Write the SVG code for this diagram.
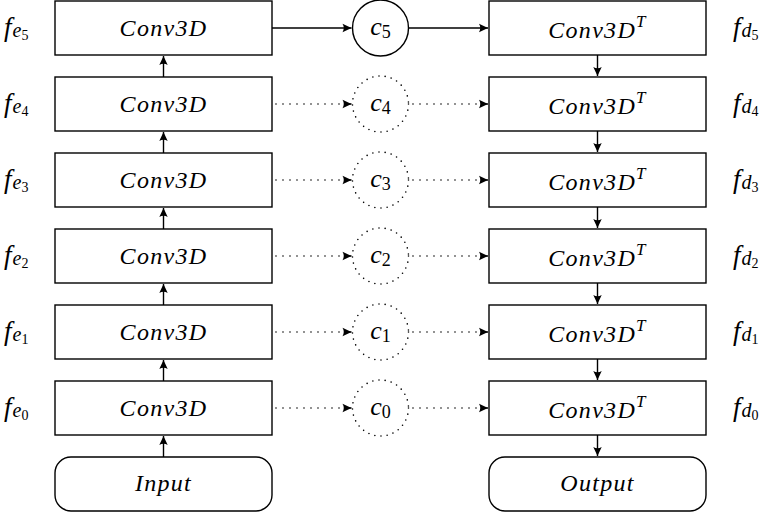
<svg xmlns="http://www.w3.org/2000/svg" width="765" height="514" viewBox="0 0 765 514" font-family="Liberation Serif, serif">
<style>
.box{fill:#fff;stroke:#000;stroke-width:1.4}
.circ{fill:#fff;stroke:#000;stroke-width:1.4}
.dcirc{fill:none;stroke:#000;stroke-width:1.6;stroke-dasharray:0 6.2;stroke-linecap:round}
.ln{fill:none;stroke:#000;stroke-width:1.4}
.dl{fill:none;stroke:#000;stroke-width:1.6;stroke-dasharray:0 7;stroke-linecap:round}
.t{font-style:italic;font-size:24px;letter-spacing:1.3px;text-anchor:middle}
.lab{font-style:italic;font-size:27px}
.sub{font-size:20px}
.sub2{font-size:14px;font-style:normal}
.ct{font-style:italic;font-size:26px;text-anchor:middle}
.cs{font-size:18px;font-style:normal}
</style>
<defs>
<marker id="ah" markerUnits="userSpaceOnUse" markerWidth="12" markerHeight="12" viewBox="-10 -6 12 12" refX="0" refY="0" orient="auto">
<path d="M0,0 L-9,-4.2 Q-6.5,0 -9,4.2 Z" fill="#000"/>
</marker>
</defs>
<g id="connectors">
<path class="ln" d="M163.5,457 V436" marker-end="url(#ah)"/>
<path class="ln" d="M163.5,381 V360" marker-end="url(#ah)"/>
<path class="ln" d="M163.5,305 V284" marker-end="url(#ah)"/>
<path class="ln" d="M163.5,229 V208" marker-end="url(#ah)"/>
<path class="ln" d="M163.5,153 V132" marker-end="url(#ah)"/>
<path class="ln" d="M163.5,77 V56" marker-end="url(#ah)"/>
<path class="ln" d="M597.5,55 V76" marker-end="url(#ah)"/>
<path class="ln" d="M597.5,131 V152" marker-end="url(#ah)"/>
<path class="ln" d="M597.5,207 V228" marker-end="url(#ah)"/>
<path class="ln" d="M597.5,283 V304" marker-end="url(#ah)"/>
<path class="ln" d="M597.5,359 V380" marker-end="url(#ah)"/>
<path class="ln" d="M597.5,435 V456" marker-end="url(#ah)"/>
<path class="ln" d="M272,28 H351.5" marker-end="url(#ah)"/>
<path class="ln" d="M409,28 H488" marker-end="url(#ah)"/>
<path class="dl" d="M276,104 H345"/><path class="ln" d="M348,104 H351.5" marker-end="url(#ah)"/>
<path class="dl" d="M413,104 H482"/><path class="ln" d="M485,104 H488" marker-end="url(#ah)"/>
<path class="dl" d="M276,180 H345"/><path class="ln" d="M348,180 H351.5" marker-end="url(#ah)"/>
<path class="dl" d="M413,180 H482"/><path class="ln" d="M485,180 H488" marker-end="url(#ah)"/>
<path class="dl" d="M276,256 H345"/><path class="ln" d="M348,256 H351.5" marker-end="url(#ah)"/>
<path class="dl" d="M413,256 H482"/><path class="ln" d="M485,256 H488" marker-end="url(#ah)"/>
<path class="dl" d="M276,332 H345"/><path class="ln" d="M348,332 H351.5" marker-end="url(#ah)"/>
<path class="dl" d="M413,332 H482"/><path class="ln" d="M485,332 H488" marker-end="url(#ah)"/>
<path class="dl" d="M276,408 H345"/><path class="ln" d="M348,408 H351.5" marker-end="url(#ah)"/>
<path class="dl" d="M413,408 H482"/><path class="ln" d="M485,408 H488" marker-end="url(#ah)"/>
</g>
<g id="enc5"><rect class="box" x="55" y="1" width="217" height="54"/><text class="t" x="163.5" y="36">Conv3D</text></g>
<g id="enc4"><rect class="box" x="55" y="77" width="217" height="54"/><text class="t" x="163.5" y="112">Conv3D</text></g>
<g id="enc3"><rect class="box" x="55" y="153" width="217" height="54"/><text class="t" x="163.5" y="188">Conv3D</text></g>
<g id="enc2"><rect class="box" x="55" y="229" width="217" height="54"/><text class="t" x="163.5" y="264">Conv3D</text></g>
<g id="enc1"><rect class="box" x="55" y="305" width="217" height="54"/><text class="t" x="163.5" y="340">Conv3D</text></g>
<g id="enc0"><rect class="box" x="55" y="381" width="217" height="54"/><text class="t" x="163.5" y="416">Conv3D</text></g>
<g id="input"><rect class="box" x="55" y="457" width="217" height="54" rx="16"/><text class="t" x="163.5" y="491">Input</text></g>
<g id="dec5"><rect class="box" x="489" y="1" width="217" height="54"/><text class="t" x="597.5" y="38">Conv3D<tspan font-size="17" dy="-11">T</tspan></text></g>
<g id="dec4"><rect class="box" x="489" y="77" width="217" height="54"/><text class="t" x="597.5" y="114">Conv3D<tspan font-size="17" dy="-11">T</tspan></text></g>
<g id="dec3"><rect class="box" x="489" y="153" width="217" height="54"/><text class="t" x="597.5" y="190">Conv3D<tspan font-size="17" dy="-11">T</tspan></text></g>
<g id="dec2"><rect class="box" x="489" y="229" width="217" height="54"/><text class="t" x="597.5" y="266">Conv3D<tspan font-size="17" dy="-11">T</tspan></text></g>
<g id="dec1"><rect class="box" x="489" y="305" width="217" height="54"/><text class="t" x="597.5" y="342">Conv3D<tspan font-size="17" dy="-11">T</tspan></text></g>
<g id="dec0"><rect class="box" x="489" y="381" width="217" height="54"/><text class="t" x="597.5" y="418">Conv3D<tspan font-size="17" dy="-11">T</tspan></text></g>
<g id="output"><rect class="box" x="489" y="457" width="217" height="54" rx="16"/><text class="t" x="597.5" y="491">Output</text></g>
<g id="c5"><circle class="circ" cx="380.5" cy="28" r="28"/><text class="ct" x="380.5" y="35">c<tspan class="cs" dy="3">5</tspan></text></g>
<g id="c4"><circle class="dcirc" cx="380.5" cy="104" r="28"/><text class="ct" x="380.5" y="111">c<tspan class="cs" dy="3">4</tspan></text></g>
<g id="c3"><circle class="dcirc" cx="380.5" cy="180" r="28"/><text class="ct" x="380.5" y="187">c<tspan class="cs" dy="3">3</tspan></text></g>
<g id="c2"><circle class="dcirc" cx="380.5" cy="256" r="28"/><text class="ct" x="380.5" y="263">c<tspan class="cs" dy="3">2</tspan></text></g>
<g id="c1"><circle class="dcirc" cx="380.5" cy="332" r="28"/><text class="ct" x="380.5" y="339">c<tspan class="cs" dy="3">1</tspan></text></g>
<g id="c0"><circle class="dcirc" cx="380.5" cy="408" r="28"/><text class="ct" x="380.5" y="415">c<tspan class="cs" dy="3">0</tspan></text></g>
<g id="labels">
<text class="lab" x="4" y="36">f<tspan class="sub" dx="1" dy="1">e</tspan><tspan class="sub2" dy="3">5</tspan></text>
<text class="lab" x="4" y="112">f<tspan class="sub" dx="1" dy="1">e</tspan><tspan class="sub2" dy="3">4</tspan></text>
<text class="lab" x="4" y="188">f<tspan class="sub" dx="1" dy="1">e</tspan><tspan class="sub2" dy="3">3</tspan></text>
<text class="lab" x="4" y="264">f<tspan class="sub" dx="1" dy="1">e</tspan><tspan class="sub2" dy="3">2</tspan></text>
<text class="lab" x="4" y="340">f<tspan class="sub" dx="1" dy="1">e</tspan><tspan class="sub2" dy="3">1</tspan></text>
<text class="lab" x="4" y="416">f<tspan class="sub" dx="1" dy="1">e</tspan><tspan class="sub2" dy="3">0</tspan></text>
<text class="lab" x="733" y="36">f<tspan class="sub" dx="1" dy="1">d</tspan><tspan class="sub2" dy="3">5</tspan></text>
<text class="lab" x="733" y="112">f<tspan class="sub" dx="1" dy="1">d</tspan><tspan class="sub2" dy="3">4</tspan></text>
<text class="lab" x="733" y="188">f<tspan class="sub" dx="1" dy="1">d</tspan><tspan class="sub2" dy="3">3</tspan></text>
<text class="lab" x="733" y="264">f<tspan class="sub" dx="1" dy="1">d</tspan><tspan class="sub2" dy="3">2</tspan></text>
<text class="lab" x="733" y="340">f<tspan class="sub" dx="1" dy="1">d</tspan><tspan class="sub2" dy="3">1</tspan></text>
<text class="lab" x="733" y="416">f<tspan class="sub" dx="1" dy="1">d</tspan><tspan class="sub2" dy="3">0</tspan></text>
</g>
</svg>
